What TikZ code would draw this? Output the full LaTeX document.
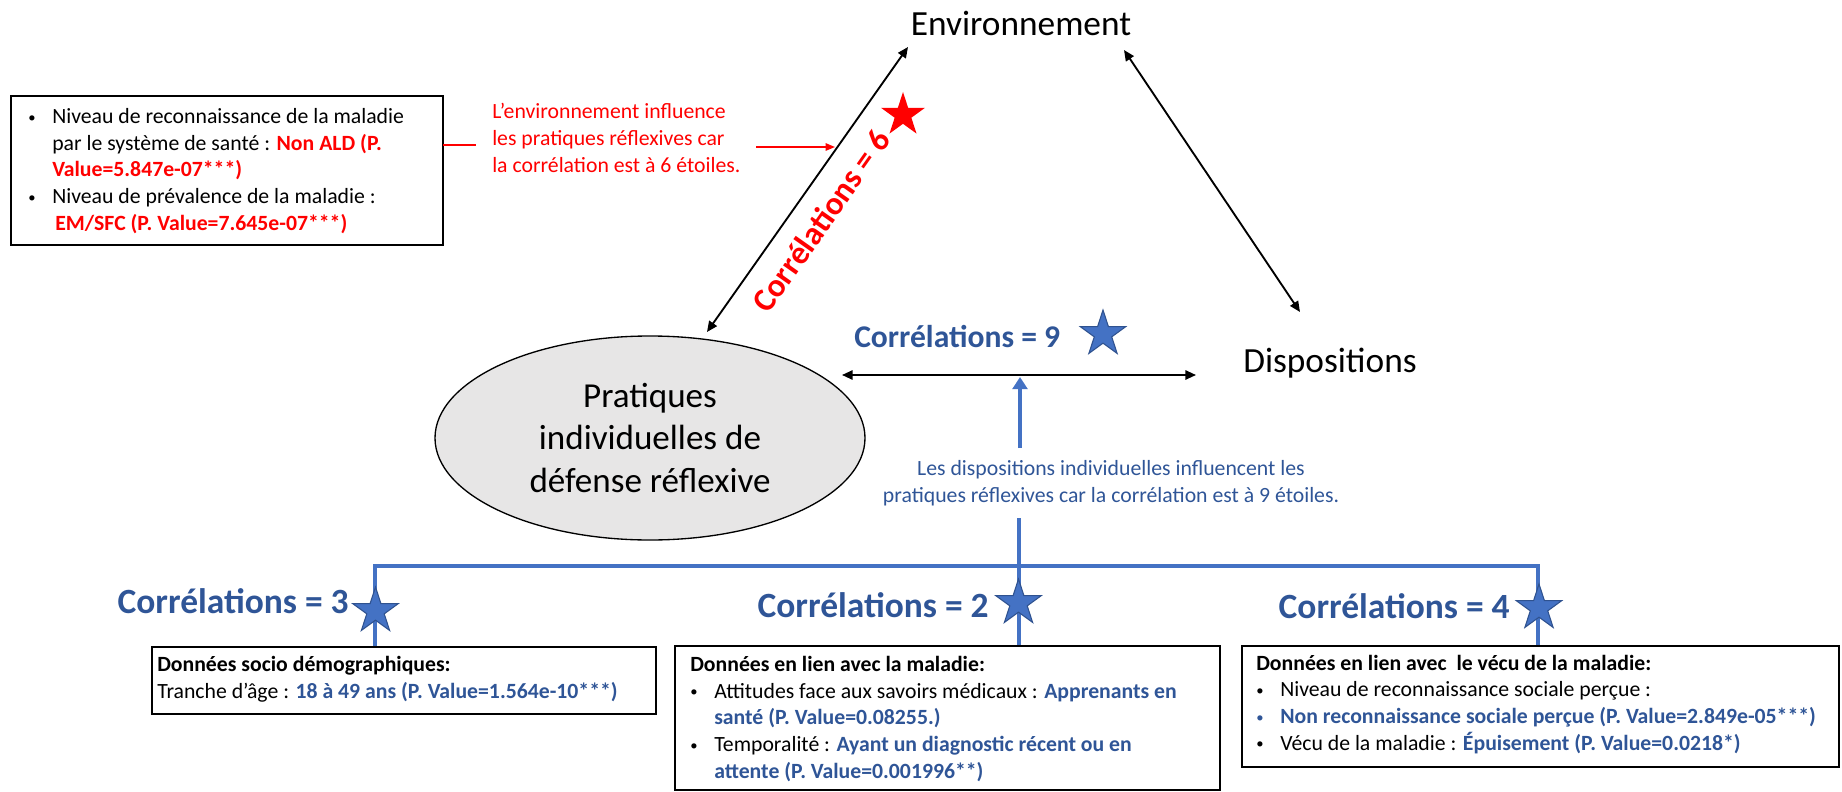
\documentclass[tikz,border=0pt]{standalone}
\usepackage{fontspec}
\setmainfont{Carlito}
\usetikzlibrary{shapes.geometric,arrows.meta}
\definecolor{cred}{HTML}{FF0000}
\definecolor{ctxtblue}{HTML}{2F5597}
\definecolor{clineblue}{HTML}{4472C4}
\definecolor{cstarline}{HTML}{2F528F}
\definecolor{cgrey}{HTML}{E7E6E6}
\newcommand{\bodyfont}{\fontsize{16.3}{19.95}\selectfont}
\newcommand{\redbold}[1]{{\color{cred}\bfseries #1}}
\newcommand{\bluebold}[1]{{\color{ctxtblue}\bfseries #1}}
\newcommand{\itembul}{\makebox[18pt][l]{\raisebox{1pt}{\fontsize{11}{12}\selectfont\textbullet}}}
\newcommand{\itemind}{\hspace*{18pt}}
\begin{document}
\begin{tikzpicture}[x=0.75pt,y=-0.75pt,
  txt/.style={inner sep=0pt, font=\bodyfont, align=left},
  infobox/.style={draw=black, line width=1pt, inner sep=0pt, fill=white},
  blackarrow/.style={line width=1.4pt, {Triangle[length=8pt,width=7pt]}-{Triangle[length=8pt,width=7pt]}},
  bluelink/.style={draw=clineblue, line width=3pt},
  starnode/.style={star, star points=5, star point ratio=2.618, inner sep=0pt, minimum size=36pt},
  bluestar/.style={starnode, fill=clineblue, draw=cstarline, line width=0.8pt},
  corrlabel/.style={inner sep=0pt, text=ctxtblue, font=\fontsize{26.6}{32}\selectfont\bfseries},
  bigtext/.style={inner sep=0pt, font=\fontsize{26.5}{32}\selectfont},
]
\useasboundingbox (0,0) rectangle (1842,792);

% --- triangle of concepts
\node[bigtext, anchor=base] (env) at (1021,36) {Environnement};
\node[bigtext, anchor=base west] (disp) at (1243,372) {Dispositions};
\node[ellipse, draw=black, fill=cgrey, line width=1pt, minimum width=322.5pt,
      minimum height=153pt, inner sep=0pt, align=center,
      font=\fontsize{26.3}{31.9}\selectfont] (prat) at (650,438)
      {Pratiques\\individuelles de\\défense réflexive};

\coordinate (dlA) at (707,332);
\coordinate (dlB) at (908,47);
\coordinate (drA) at (1124,50);
\coordinate (drB) at (1300,312);
\coordinate (hzA) at (842,375);
\coordinate (hzB) at (1196,375);
\draw[blackarrow] (dlA) -- (dlB);
\draw[blackarrow] (drA) -- (drB);
\draw[blackarrow] (hzA) -- (hzB);

% --- environment annotations
\node[infobox, minimum width=324pt, minimum height=111.75pt] (tb) at (227,170.5) {};
\node[txt, anchor=base west] (tbtext) at (28,230)
 {\itembul Niveau de reconnaissance de la maladie\\
  \itemind par le système de santé : \redbold{Non ALD (P.}\\
  \itemind \redbold{Value=5.847e-07***)}\\
  \itembul Niveau de prévalence de la maladie :\\
  \hspace*{20.25pt}\redbold{EM/SFC (P. Value=7.645e-07***)}};
\node[txt, text=cred, anchor=base west] (rednote) at (492,172)
 {L’environnement influence\\les pratiques réflexives car\\la corrélation est à 6 étoiles.};
\coordinate (rdA) at (443,145);
\coordinate (rdB) at (476,145);
\draw[cred, line width=1.2pt] (rdA) -- (rdB);
\coordinate (raA) at (756,147);
\coordinate (raB) at (835,147);
\draw[cred, line width=1.2pt, -{Triangle[length=7pt,width=5.5pt]}] (raA) -- (raB);
\node[rotate=54.8, text=cred, inner sep=0pt, font=\fontsize{24.6}{30}\selectfont\bfseries]
      (c6) at (821,221) {Corrélations = 6};
\node[starnode, minimum size=34.5pt, fill=cred] (s6) at (903,115) {};

% --- dispositions annotations
\node[inner sep=0pt, text=ctxtblue, font=\fontsize{23.7}{28}\selectfont\bfseries, anchor=base west]
      (c9) at (854,347) {Corrélations = 9};
\node[bluestar] (s9) at (1103,334) {};
\node[txt, align=center, text=ctxtblue, anchor=base] (bluenote) at (1111,502)
 {Les dispositions individuelles influencent les\\pratiques réflexives car la corrélation est à 9 étoiles.};
\coordinate (upA) at (1020,448);
\coordinate (upB) at (1020,377);
\draw[bluelink, -{Triangle[length=9pt,width=11pt]}] (upA) -- (upB);

% --- bottom tree
\coordinate (midtop) at (1019,518);
\coordinate (tl) at (375,566);
\coordinate (tr) at (1538,566);
\coordinate (b1top) at (375,647);
\coordinate (b2top) at (1019,646);
\coordinate (b3top) at (1538,646);
\draw[bluelink, line join=miter] (b1top) -- (tl) -- (tr) -- (b3top);
\draw[bluelink] (midtop) -- (b2top);

\node[corrlabel, anchor=base east] (c3) at (349,613) {Corrélations = 3};
\node[corrlabel, anchor=base east] (c2) at (989,617) {Corrélations = 2};
\node[corrlabel, anchor=base east] (c4) at (1510,618) {Corrélations = 4};
\node[bluestar] (s3) at (375.5,611) {};
\node[bluestar] (s2) at (1018.5,603) {};
\node[bluestar] (s4) at (1539,608) {};

\node[infobox, minimum width=378pt, minimum height=50.25pt] (b1) at (404,680.5) {};
\node[txt, anchor=base west] (b1text) at (157,698)
 {\textbf{Données socio démographiques:}\\
  Tranche d’âge : \bluebold{18 à 49 ans (P. Value=1.564e-10***)}};

\node[infobox, minimum width=408.75pt, minimum height=108pt] (b2) at (947.5,718) {};
\node[txt, anchor=base west] (b2text) at (690,778)
 {\textbf{Données en lien avec la maladie:}\\
  \itembul Attitudes face aux savoirs médicaux : \bluebold{Apprenants en}\\
  \itemind\bluebold{santé (P. Value=0.08255.)}\\
  \itembul Temporalité : \bluebold{Ayant un diagnostic récent ou en}\\
  \itemind\bluebold{attente (P. Value=0.001996**)}};

\node[infobox, minimum width=447.75pt, minimum height=90.75pt] (b3) at (1540.5,706.5) {};
\node[txt, anchor=base west] (b3text) at (1256,750)
 {\textbf{Données en lien avec\ \ le vécu de la maladie:}\\
  \itembul Niveau de reconnaissance sociale perçue :\\
  {\color{ctxtblue}\itembul}\bluebold{Non reconnaissance sociale perçue (P. Value=2.849e-05***)}\\
  \itembul Vécu de la maladie : \bluebold{Épuisement (P. Value=0.0218*)}};
\end{tikzpicture}
\end{document}
